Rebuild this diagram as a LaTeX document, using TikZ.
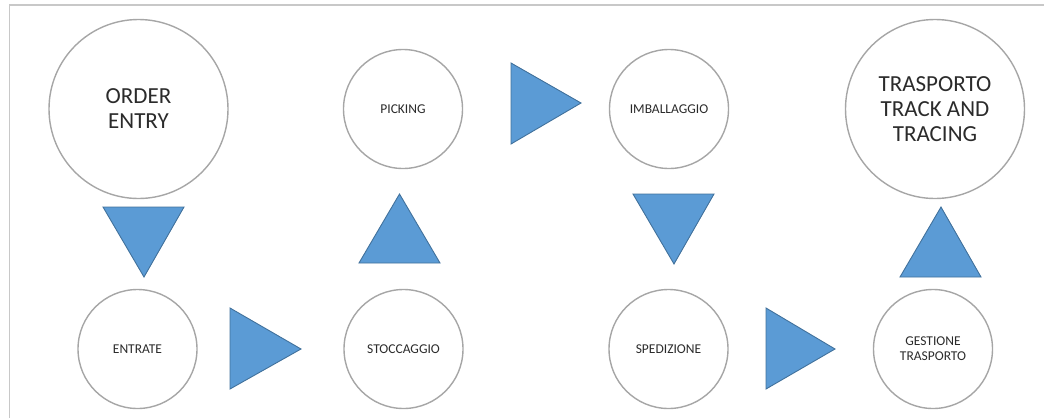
\documentclass[tikz,border=0pt]{standalone}
\usepackage{fontspec}
\setmainfont{Carlito}
\definecolor{stepfill}{HTML}{5B9BD5}
\definecolor{stepedge}{HTML}{41719C}
\definecolor{ringgray}{HTML}{A6A6A6}
\definecolor{textgray}{HTML}{2B2B2B}
\definecolor{framegray}{HTML}{C8C8C8}
\begin{document}
\begin{tikzpicture}[x=1pt,y=-1pt,
  phase/.style={circle,draw=ringgray,line width=1.4pt,fill=white,inner sep=0pt,
    align=center,text=textgray},
  bigphase/.style={phase,minimum size=179pt,font=\fontsize{23}{25}\selectfont},
  smallphase/.style={phase,minimum size=119pt,font=\fontsize{13.5}{15}\selectfont},
  arrowtri/.style={fill=stepfill,draw=stepedge,line width=0.9pt,line join=miter}
]
\useasboundingbox (0,0) rectangle (1044,418);
% page frame
\draw[framegray,line width=1.5pt] (9.5,418) -- (9.5,5) -- (1044,5);

% process stages
\node[bigphase]   (order)  at (138.5,109) {ORDER\\ENTRY};
\node[smallphase] (pick)   at (403,109)   {PICKING};
\node[smallphase] (pack)   at (669,109)   {IMBALLAGGIO};
\node[bigphase]   (track)  at (935,109)   {TRASPORTO\\TRACK AND\\TRACING};
\node[smallphase] (inbound) at (137.5,349) {ENTRATE};
\node[smallphase] (store)  at (403.5,349) {STOCCAGGIO};
\node[smallphase] (ship)   at (668.5,349) {SPEDIZIONE};
\node[smallphase] (transp) at (933,349)   {GESTIONE\\TRASPORTO};

% flow triangles
\draw[arrowtri] (103,207) -- (184,207) -- (144,277) -- cycle;   % order -> inbound
\draw[arrowtri] (230,308) -- (301,349) -- (230,389) -- cycle;   % inbound -> store
\draw[arrowtri] (359,263) -- (440,263) -- (399.5,194) -- cycle; % store -> pick
\draw[arrowtri] (511,63) -- (581,103) -- (511,144) -- cycle;    % pick -> pack
\draw[arrowtri] (633,194) -- (714,194) -- (674,264) -- cycle;   % pack -> ship
\draw[arrowtri] (766,308) -- (835,349) -- (766,389) -- cycle;   % ship -> transp
\draw[arrowtri] (900,277) -- (981,277) -- (941,207) -- cycle;   % transp -> track
\end{tikzpicture}
\end{document}
